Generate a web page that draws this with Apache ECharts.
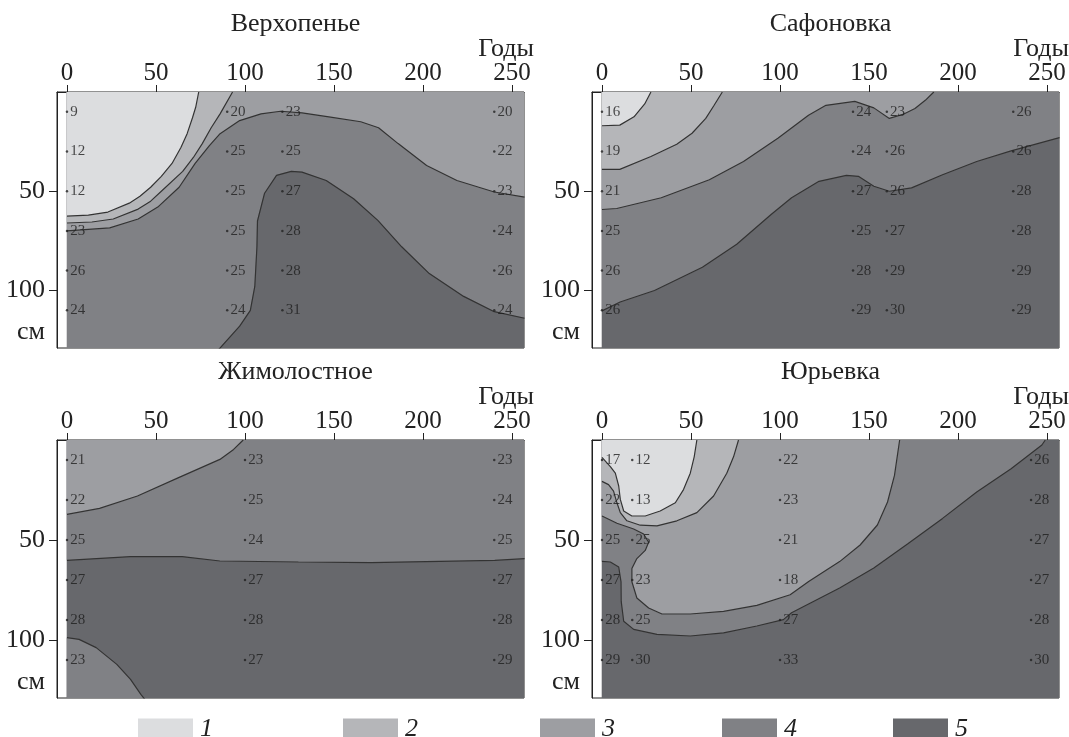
<!DOCTYPE html>
<html>
<head>
<meta charset="utf-8">
<title>Профили почвы</title>
<script src="https://cdn.jsdelivr.net/npm/echarts@6/dist/echarts.min.js"></script>
<style>
  html, body { margin: 0; padding: 0; background: #fff; }
  #chart { width: 1069px; height: 737px; }
</style>
</head>
<body>
<div id="chart"></div>
<script>
// --- data ---
var panelTitles = ['Верхопенье', 'Сафоновка', 'Жимолостное', 'Юрьевка'];
var yearTicks = [0, 50, 100, 150, 200, 250];
var depths = [10, 30, 50, 70, 90, 110];
var zoneNames = ['1', '2', '3', '4', '5'];
var zoneColors = ['#dcdddf', '#b5b6b9', '#9d9ea2', '#808185', '#67686c'];

// measured values, one row per year column, top to bottom
var verkhYears = [0, 90, 121, 240];
var verkhValues = [[9, 12, 12, 23, 26, 24], [20, 25, 25, 25, 25, 24], [23, 25, 27, 28, 28, 31], [20, 22, 23, 24, 26, 24]];
var safYears = [0, 141, 160, 231];
var safValues = [[16, 19, 21, 25, 26, 26], [24, 24, 27, 25, 28, 29], [23, 26, 26, 27, 29, 30], [26, 26, 28, 28, 29, 29]];
var zhimYears = [0, 100, 240];
var zhimValues = [[21, 22, 25, 27, 28, 23], [23, 25, 24, 27, 28, 27], [23, 24, 25, 27, 28, 29]];
var yurYears = [0, 17, 100, 241];
var yurValues = [[17, 22, 25, 27, 28, 29], [12, 13, 25, 23, 25, 30], [22, 23, 21, 18, 27, 33], [26, 28, 27, 27, 28, 30]];

// zone boundaries [year, depth]
var verkhLine1 = [[0, 62.5], [12, 62], [23, 60.5], [35, 56], [41, 52.5], [47, 48], [53, 42.5], [59, 36], [64, 28], [67.5, 21], [70.5, 13], [72.3, 7.7], [74, 0]];
var verkhLine2 = [[0, 66], [14, 65.5], [26, 64], [40, 59], [47, 55], [53, 50], [65, 40], [71, 33], [76, 26], [81, 18], [86, 11], [93, 0]];
var verkhLine3 = [[0, 70], [24, 68.5], [40, 64], [51, 58], [63, 48], [72, 36], [80, 27], [86, 21], [97, 14.4], [109, 11], [120, 9.7], [132, 10.5], [148, 12.7], [165, 15], [175, 18], [186, 26], [202, 37], [219, 44.6], [240, 50.4], [257, 53]];
var verkhLine4 = [[85, 130], [97, 118], [103, 110], [105.5, 98], [106.7, 78], [107, 65], [111, 51], [117.7, 42], [126, 40], [132, 40.4], [145.6, 44.6], [161, 53.8], [174.6, 64.7], [188, 78], [203.5, 91.5], [222.8, 103], [240, 110.7], [257, 114]];

var safLine1 = [[0, 17], [10, 16.7], [18, 12.5], [24, 6], [27.5, 0]];
var safLine2 = [[0, 39], [10, 39], [27.5, 32.5], [42, 26.3], [50.6, 20.8], [58.3, 13.3], [63, 6.7], [67.6, 0]];
var safLine3 = [[0, 59.2], [8.3, 58.7], [33.3, 53.3], [60.3, 44.2], [79.5, 35], [98.8, 23.3], [116, 11.7], [125.8, 6.7], [142, 4.7], [152.7, 8], [161.4, 13.3], [169, 11.3], [175.8, 8.3], [181.6, 4.2], [186.4, 0]];
var safLine4 = [[0, 110.3], [10.2, 105.8], [29.5, 100], [56.4, 88.3], [75.7, 76.7], [95, 61.7], [106.5, 53.3], [121.9, 45], [137.3, 42], [144, 42.5], [152.7, 47.5], [161.4, 50], [173.9, 48.3], [191.3, 41.7], [210.5, 35], [229.8, 29.7], [257, 23]];

var zhimLine1 = [[0, 37.2], [18.3, 34.2], [39.6, 28], [62.7, 18.8], [85.9, 9.7], [93.6, 4.7], [99, 0]];
var zhimLine2 = [[0, 60.2], [35.7, 58.3], [64.7, 58.3], [85.9, 60.5], [130, 61], [170.8, 61.3], [240.3, 60.2], [257, 59.3]];
var zhimLine3 = [[0, 98.8], [6.8, 99.7], [16.4, 103.8], [28, 112.2], [35.7, 119.7], [41.5, 127.2], [44, 130]];

var yurLine1 = [[0, 8.7], [4.7, 13.3], [7.5, 16.6], [9.4, 23], [10.3, 29.7], [12.2, 35.5], [16.8, 38], [24.3, 38], [32.7, 35.5], [41.2, 31.4], [45.8, 24.8], [49.6, 16.6], [51.8, 8.4], [53.3, 0]];
var yurLine2 = [[0, 20.7], [3.7, 22.3], [6.5, 25.6], [8.4, 31.4], [10.3, 36.3], [14, 40.4], [21.5, 42.6], [30.9, 42.9], [42.1, 40.4], [53.3, 36.3], [62.7, 28], [70.1, 16.6], [73.9, 8.4], [76.7, 0]];
var yurLine3 = [[0, 38], [8.4, 41.6], [17.8, 44.5], [23.4, 47], [26.2, 51.1], [24.3, 55.2], [19.6, 59.3], [16.8, 64.3], [16.8, 70.9], [19.6, 79], [26.2, 84], [33.7, 87], [49.6, 87], [68.3, 85.7], [87, 82.7], [105.7, 77.4], [116.1, 70.7], [133.5, 60.8], [145, 52.5], [154.7, 42.5], [160.4, 31], [164.3, 17.7], [167.2, 0]];
var yurLine4 = [[0, 60.7], [4.7, 61], [9.4, 63.5], [10.7, 70.9], [10.8, 80.7], [12.2, 90.6], [17.8, 94.7], [30.9, 97.2], [49.6, 98], [68.3, 96.4], [87, 93], [101.9, 89.8], [106.5, 86.4], [133.5, 74], [152.7, 64], [172, 51.7], [191.3, 39.2], [210.5, 26], [229.8, 14.4], [247.1, 2.5], [249, 0]];

// --- layout / helpers ---
var X_END = 257, Y_END = 130;
var FONT = 'Liberation Serif';

function fullRect() { return [[0, 0], [X_END, 0], [X_END, Y_END], [0, Y_END]]; }
function upperLeft(line) { return line.concat([[0, 0]]); }
function upperFull(line) { return line.concat([[X_END, 0], [0, 0]]); }

var panels = [
  {
    years: verkhYears, values: verkhValues,
    lines: [verkhLine1, verkhLine2, verkhLine3, verkhLine4],
    layers: [[4, fullRect()], [3, upperFull(verkhLine3)], [2, upperLeft(verkhLine2)], [1, upperLeft(verkhLine1)], [5, verkhLine4.concat([[X_END, Y_END]])]]
  },
  {
    years: safYears, values: safValues,
    lines: [safLine1, safLine2, safLine3, safLine4],
    layers: [[5, fullRect()], [4, upperFull(safLine4)], [3, upperLeft(safLine3)], [2, upperLeft(safLine2)], [1, upperLeft(safLine1)]]
  },
  {
    years: zhimYears, values: zhimValues,
    lines: [zhimLine1, zhimLine2, zhimLine3],
    layers: [[5, fullRect()], [4, upperFull(zhimLine2)], [3, upperLeft(zhimLine1)], [4, zhimLine3.concat([[0, Y_END]])]]
  },
  {
    years: yurYears, values: yurValues,
    lines: [yurLine1, yurLine2, yurLine3, yurLine4],
    layers: [[5, fullRect()], [4, upperLeft(yurLine4)], [3, upperLeft(yurLine3)], [2, upperLeft(yurLine2)], [1, upperLeft(yurLine1)]]
  }
];

var grids = [
  { left: 57, top: 92, width: 467, height: 256 },
  { left: 592, top: 92, width: 467, height: 256 },
  { left: 57, top: 440, width: 467, height: 258 },
  { left: 592, top: 440, width: 467, height: 258 }
];
grids.forEach(function (g) {
  g.show = true;
  g.borderColor = '#222';
  g.borderWidth = 1;
  g.backgroundColor = 'transparent';
});

var xAxes = [], yAxes = [], series = [], titles = [];

panels.forEach(function (p, g) {
  xAxes.push({
    type: 'value', gridIndex: g, position: 'top', min: -5.6, max: 256.7,
    axisLine: { show: true, onZero: false, lineStyle: { color: '#222', width: 1 } },
    axisTick: { show: true, length: 7, customValues: yearTicks, lineStyle: { color: '#222' } },
    axisLabel: { customValues: yearTicks, margin: 6, fontFamily: FONT, fontSize: 25, color: '#222' },
    splitLine: { show: false }
  });
  yAxes.push({
    type: 'value', gridIndex: g, inverse: true, min: 0, max: 129,
    axisLine: { show: true, onZero: false, lineStyle: { color: '#222', width: 1 } },
    axisTick: { show: true, length: 8, customValues: [50, 100], lineStyle: { color: '#222' } },
    axisLabel: {
      customValues: [50, 100, 121], margin: 12, fontFamily: FONT, fontSize: 26, color: '#222',
      formatter: function (v) { return v === 121 ? 'см' : String(v); }
    },
    splitLine: { show: false }
  });

  // filled zones, painted from the back
  p.layers.forEach(function (layer) {
    var zone = layer[0], poly = layer[1];
    var color = zoneColors[zone - 1];
    series.push({
      type: 'custom', name: zoneNames[zone - 1],
      xAxisIndex: g, yAxisIndex: g, clip: true, silent: true,
      itemStyle: { color: color },
      data: [poly[0]],
      renderItem: function (params, api) {
        var pts = poly.map(function (pt) { return api.coord(pt); });
        return { type: 'polygon', shape: { points: pts }, style: { fill: color, stroke: color, lineWidth: 0.5 } };
      }
    });
  });

  // contour lines
  p.lines.forEach(function (line) {
    series.push({
      type: 'line', xAxisIndex: g, yAxisIndex: g, data: line,
      symbol: 'none', silent: true, clip: true, z: 3,
      lineStyle: { color: '#333', width: 1.2 }
    });
  });

  // measurement points
  var pts = [];
  p.years.forEach(function (yr, i) {
    depths.forEach(function (d, j) {
      pts.push([yr, d, p.values[i][j]]);
    });
  });
  series.push({
    type: 'scatter', xAxisIndex: g, yAxisIndex: g, data: pts,
    symbolSize: 2.5, silent: true, z: 4,
    itemStyle: { color: '#222' },
    label: {
      show: true, position: 'right', distance: 2,
      fontFamily: FONT, fontSize: 15, color: '#1e1e1e',
      formatter: function (prm) { return prm.value[2]; }
    }
  });

  var gr = grids[g];
  titles.push({
    text: panelTitles[g], left: gr.left + gr.width / 2, top: gr.top - 86, textAlign: 'center',
    textStyle: { fontFamily: FONT, fontSize: 26, fontWeight: 'normal', color: '#222' }
  });
  titles.push({
    text: 'Годы', left: gr.left + gr.width + 5, top: gr.top - 61, textAlign: 'right',
    textStyle: { fontFamily: FONT, fontSize: 26, fontWeight: 'normal', color: '#222' }
  });
});

var legendLeft = [138, 343, 540, 722, 893];
var legends = zoneNames.map(function (n, i) {
  return {
    data: [n], left: legendLeft[i], top: 716, padding: 0, itemGap: 0,
    icon: 'rect', itemWidth: 55, itemHeight: 21, selectedMode: false,
    textStyle: { fontFamily: FONT, fontStyle: 'italic', fontSize: 26, color: '#222', padding: [0, 0, 0, 2] }
  };
});

var chart = echarts.init(document.getElementById('chart'));
chart.setOption({
  animation: false,
  backgroundColor: '#fff',
  title: titles,
  legend: legends,
  grid: grids,
  xAxis: xAxes,
  yAxis: yAxes,
  series: series
});
</script>
</body>
</html>
